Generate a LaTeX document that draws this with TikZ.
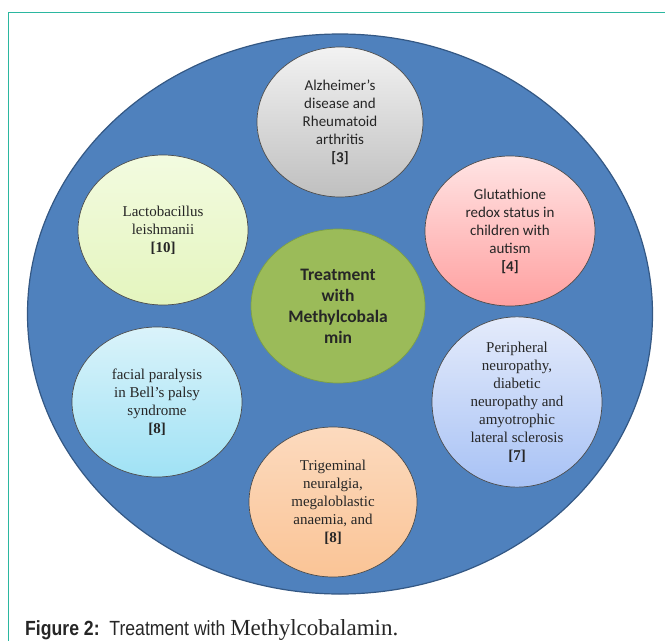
\documentclass[tikz,border=0pt]{standalone}
\usepackage{fontspec}
\setmainfont{Liberation Serif}
\newfontfamily\calfont{Carlito}
\newfontfamily\capfont[FakeStretch=0.86]{Liberation Sans}
\usetikzlibrary{shapes.geometric}

\definecolor{frameteal}{RGB}{43,183,160}
\definecolor{plateblue}{RGB}{79,129,189}
\definecolor{plateedge}{RGB}{52,88,132}
\definecolor{coregreen}{RGB}{155,187,89}
\definecolor{coreedge}{RGB}{125,160,70}

\begin{document}
\begin{tikzpicture}[
  x=1pt,y=-1pt,
  bubble/.style={
    ellipse,
    draw=black!70,
    line width=0.7pt,
    minimum width=170pt,
    minimum height=150pt,
    inner sep=0pt,
    align=center,
    text=black!85
  },
  calibri/.style={font=\calfont\fontsize{15}{18}\selectfont},
  times/.style={font=\fontsize{15}{18}\selectfont}
]
  \useasboundingbox (0,0) rectangle (665,641);
  \draw[frameteal,line width=1pt] (665,12) -- (8,12) -- (8,641);

  % blue plate
  \node[ellipse,fill=plateblue,draw=plateedge,line width=1.2pt,
        minimum width=625pt,minimum height=560pt] (plate) at (340,314) {};

  % outer topics
  \node[bubble,calibri,minimum width=166pt,
        top color=black!5,bottom color=black!25] (alzheimer) at (340,122)
    {Alzheimer’s\\disease and\\Rheumatoid\\arthritis\\\textbf{[3]}};
  \node[bubble,times,
        top color={rgb,255:red,243;green,251;blue,224},
        bottom color={rgb,255:red,228;green,245;blue,190}] (lacto) at (163,230)
    {Lactobacillus\\leishmanii\\\textbf{[10]}};
  \node[bubble,calibri,
        top color={rgb,255:red,255;green,228;blue,228},
        bottom color={rgb,255:red,255;green,160;blue,160}] (glutathione) at (510,231)
    {Glutathione\\redox status in\\children with\\autism\\\textbf{[4]}};
  \node[bubble,times,
        top color={rgb,255:red,218;green,243;blue,250},
        bottom color={rgb,255:red,160;green,226;blue,245}] (bell) at (157,402)
    {facial paralysis\\in Bell’s palsy\\syndrome\\\textbf{[8]}};
  \node[bubble,times,
        top color={rgb,255:red,228;green,235;blue,251},
        bottom color={rgb,255:red,168;green,194;blue,245}] (neuropathy) at (517,402)
    {Peripheral\\neuropathy,\\diabetic\\neuropathy and\\amyotrophic\\lateral sclerosis\\\textbf{[7]}};
  \node[bubble,times,minimum width=168pt,
        top color={rgb,255:red,252;green,218;blue,190},
        bottom color={rgb,255:red,250;green,196;blue,150}] (trigeminal) at (333,502)
    {Trigeminal\\neuralgia,\\megaloblastic\\anaemia, and\\\textbf{[8]}};

  % centre
  \node[bubble,font=\calfont\bfseries\fontsize{17.5}{21}\selectfont,
        fill=coregreen,draw=coreedge,minimum width=174pt,minimum height=154pt]
    (core) at (338,306) {Treatment\\with\\Methylcobala\\min};

  % caption
  \node[anchor=base west,inner sep=0pt,text=black!85,
        font=\capfont\fontsize{20.5}{24}\selectfont] (caption) at (25,635)
    {\textbf{Figure 2:}\ \ Treatment with {\rmfamily\fontsize{23}{24}\selectfont Methylcobalamin.}};
\end{tikzpicture}
\end{document}
